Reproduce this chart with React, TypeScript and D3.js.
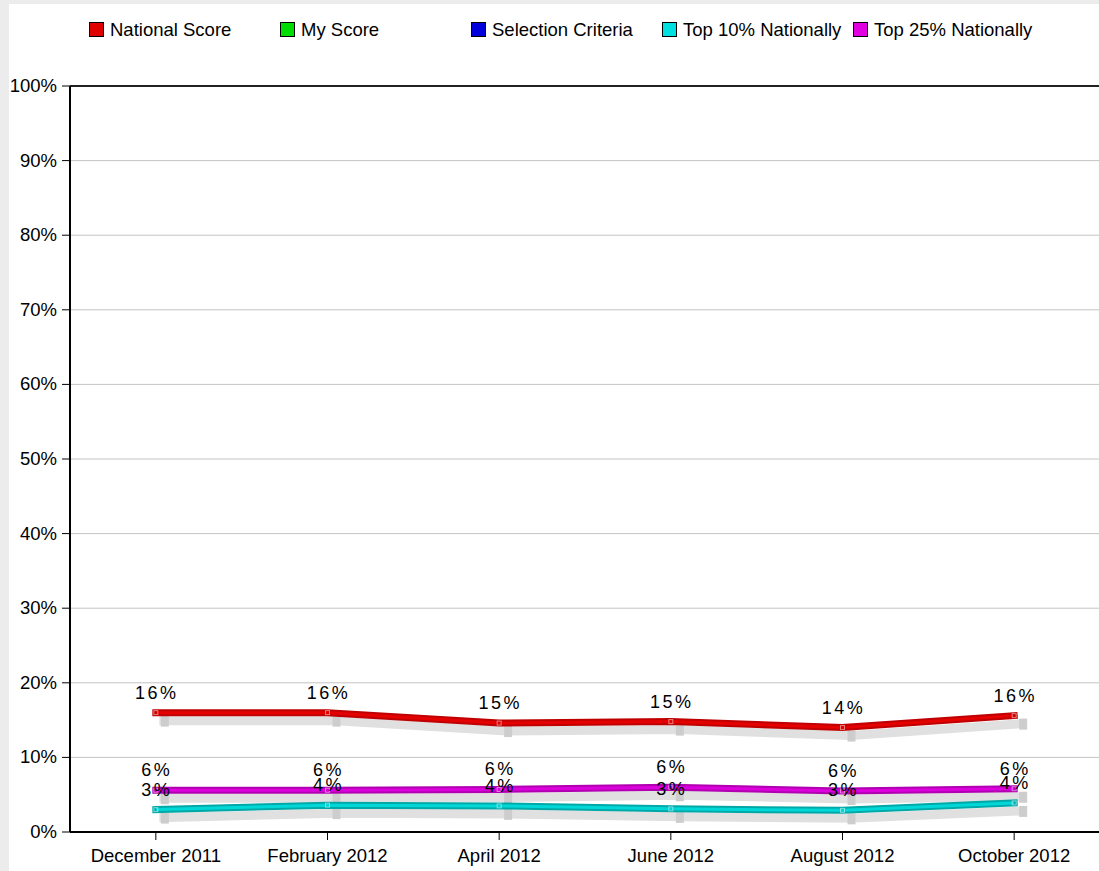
import React from "react";
import * as d3 from "d3";

const categories = ["December 2011", "February 2012", "April 2012", "June 2012", "August 2012", "October 2012"];
const nationalScore = [16.0, 16.0, 14.6, 14.8, 14.0, 15.6];
const top10Nationally = [3.0, 3.6, 3.5, 3.1, 2.9, 3.9];
const top25Nationally = [5.6, 5.6, 5.7, 6.0, 5.5, 5.8];
const yTicks = [0, 10, 20, 30, 40, 50, 60, 70, 80, 90, 100];
const legendItems = [
  { name: "National Score", color: "#e00000" },
  { name: "My Score", color: "#00dd00" },
  { name: "Selection Criteria", color: "#0000dd" },
  { name: "Top 10% Nationally", color: "#00e0e0" },
  { name: "Top 25% Nationally", color: "#e000e0" },
];

const series = [
  { name: "National Score", values: nationalScore, outer: "#c00000", inner: "#e40000" },
  { name: "Top 10% Nationally", values: top10Nationally, outer: "#00a8a8", inner: "#00d8d8" },
  { name: "Top 25% Nationally", values: top25Nationally, outer: "#b000b0", inner: "#dc00dc" },
];

const W = 1099, H = 871;
const left = 70, right = 1100, top = 86, bottom = 832;
const FONT = "'Liberation Sans', Arial, sans-serif";
const FS = 18.5;

export default function App() {
  const x = d3.scalePoint<string>().domain(categories).range([left, right]).padding(0.5);
  const y = d3.scaleLinear().domain([0, 100]).range([bottom, top]);
  const line = d3.line<number>().x((_, i) => x(categories[i])!).y((v) => y(v));
  const sdx = 8, sdy = 8;
  const shadowLine = d3.line<number>().x((_, i) => x(categories[i])! + sdx).y((v) => y(v) + sdy);

  return (
    <svg width={W} height={H} style={{ position: "absolute", left: 0, top: 0, display: "block" }} fontFamily={FONT}>
      <rect x={0} y={0} width={W} height={H} fill="#ececec" />
      <rect x={9} y={4} width={W - 9} height={H - 4} fill="#ffffff" />

      {legendItems.map((d, i) => (
        <g key={d.name} transform={`translate(${89 + i * 191},22)`}>
          <rect x={0.5} y={0.5} width={14} height={14} fill={d.color} stroke="#000" strokeWidth={1} />
          <text x={21} y={14} fontSize={FS} fill="#000">{d.name}</text>
        </g>
      ))}

      {yTicks.map((t) => (
        <g key={t}>
          {t > 0 && t < 100 && <line x1={left} x2={W} y1={y(t)} y2={y(t)} stroke="#c4c4c4" strokeWidth={1} />}
          <line x1={left - 8} x2={left} y1={y(t)} y2={y(t)} stroke="#000" strokeWidth={1} />
          <text x={57} y={y(t) + 6} fontSize={FS} textAnchor="end" fill="#000">{t}%</text>
        </g>
      ))}
      <line x1={left} x2={W} y1={top} y2={top} stroke="#222" strokeWidth={2} />
      <line x1={left} x2={left} y1={top} y2={bottom} stroke="#000" strokeWidth={2} />
      <line x1={left} x2={W} y1={bottom} y2={bottom} stroke="#000" strokeWidth={2} />

      {categories.map((c) => (
        <g key={c}>
          <line x1={x(c)!} x2={x(c)!} y1={bottom} y2={bottom + 8} stroke="#000" strokeWidth={1} />
          <text x={x(c)!} y={862} fontSize={FS} textAnchor="middle" fill="#000">{c}</text>
        </g>
      ))}

      {series.map((s) => (
        <g key={s.name + "sh"}>
          <path d={shadowLine(s.values)!} fill="none" stroke="#e0e0e0" strokeWidth={9} strokeLinecap="square" />
          {s.values.map((v, i) => (
            <rect key={i} x={x(categories[i])! + sdx - 3} y={y(v) + sdy - 5} width={8} height={11} fill="#cdcdcd" />
          ))}
        </g>
      ))}

      {series.map((s) => (
        <g key={s.name}>
          <path d={line(s.values)!} fill="none" stroke={s.outer} strokeWidth={7} strokeLinecap="square" />
          <path d={line(s.values)!} fill="none" stroke={s.inner} strokeWidth={3} />
          {s.values.map((v, i) => (
            <rect key={i} x={x(categories[i])! - 2} y={y(v) - 2} width={4} height={4} fill="none" stroke="#ffffff" strokeOpacity={0.5} strokeWidth={1} />
          ))}
        </g>
      ))}

      {series.map((s) => (
        <g key={s.name + "lbl"}>
          {s.values.map((v, i) => (
            <text key={i} x={x(categories[i])! + 1} y={y(v) - 14} fontSize={18} letterSpacing={2.5} textAnchor="middle" fill="#000">
              {Math.round(v)}%
            </text>
          ))}
        </g>
      ))}
    </svg>
  );
}
